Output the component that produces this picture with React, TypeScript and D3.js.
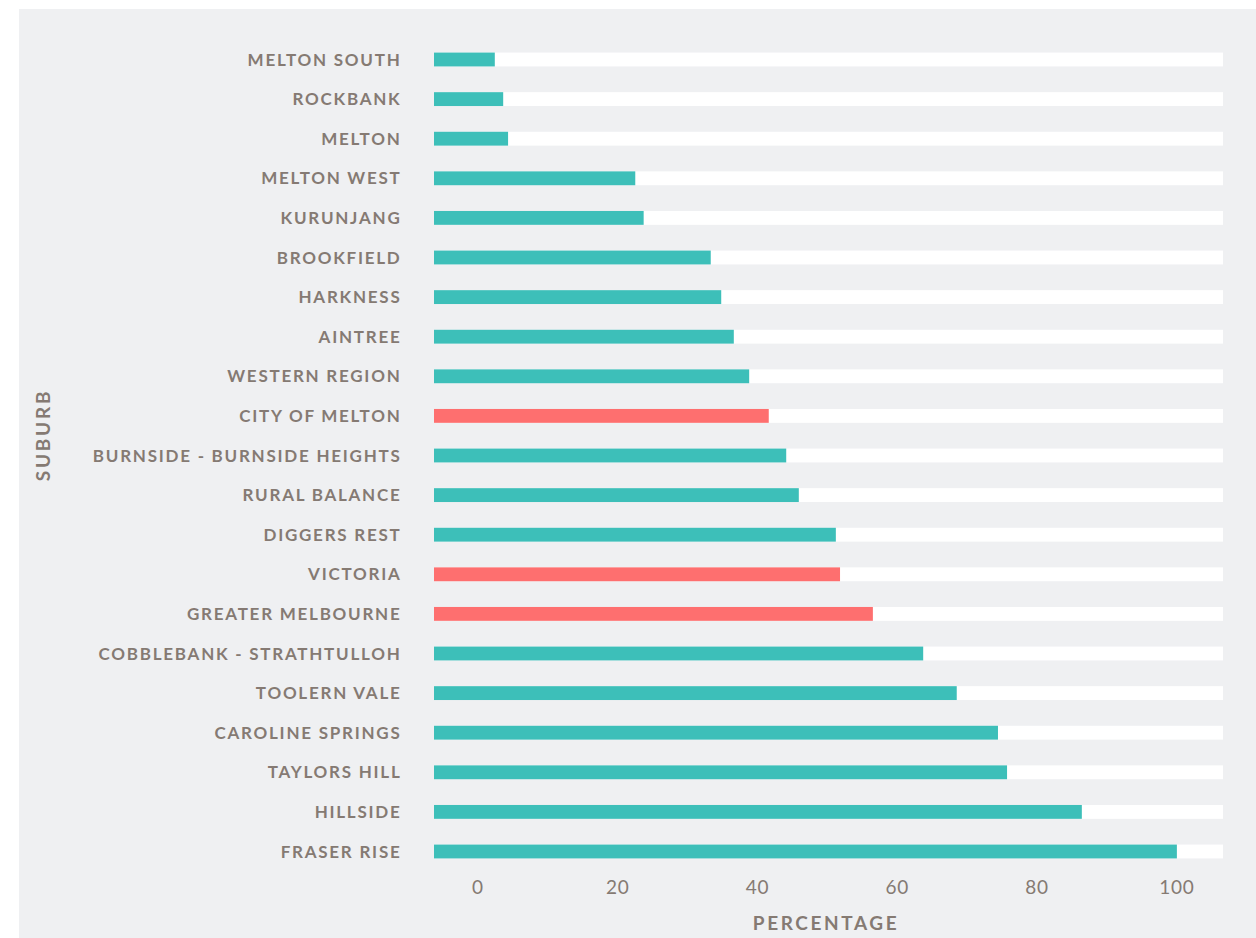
import React from "react";
import * as d3 from "d3";

const suburbs = [
  "MELTON SOUTH", "ROCKBANK", "MELTON", "MELTON WEST", "KURUNJANG", "BROOKFIELD",
  "HARKNESS", "AINTREE", "WESTERN REGION", "CITY OF MELTON", "BURNSIDE - BURNSIDE HEIGHTS",
  "RURAL BALANCE", "DIGGERS REST", "VICTORIA", "GREATER MELBOURNE", "COBBLEBANK - STRATHTULLOH",
  "TOOLERN VALE", "CAROLINE SPRINGS", "TAYLORS HILL", "HILLSIDE", "FRASER RISE",
];
const percentages = [
  2.4, 3.6, 4.3, 22.5, 23.7, 33.3, 34.8, 36.6, 38.8, 41.6, 44.1,
  45.9, 51.2, 51.8, 56.5, 63.7, 68.5, 74.4, 75.7, 86.4, 100,
];
const highlighted = ["CITY OF MELTON", "VICTORIA", "GREATER MELBOURNE"];
const xTicks = [0, 20, 40, 60, 80, 100];
const xDomain = [-6.3, 106.6];

const W = 1256, H = 938;
const TEXT = "#857a73";
const TEAL = "#3dbfb9";
const RED = "#fe6f6f";

export default function App() {
  const x = d3.scaleLinear().domain(xDomain).range([434, 1223]);
  const y = d3.scaleBand<string>().domain(suburbs).range([39.7, 871.3]).paddingInner(0.65).paddingOuter(0.325);
  const font = "Lato, 'Open Sans', sans-serif";
  return (
    <svg width={W} height={H} style={{ position: "absolute", left: 0, top: 0 }}>
      <rect x={19} y={9} width={W - 19} height={H - 9} fill="#eff0f2" />
      {suburbs.map((s, i) => (
        <g key={s}>
          <rect x={x(xDomain[0])} y={y(s)} width={x(xDomain[1]) - x(xDomain[0])} height={y.bandwidth()} fill="#ffffff" />
          <rect x={x(xDomain[0])} y={y(s)} width={x(percentages[i]) - x(xDomain[0])} height={y.bandwidth()}
            fill={highlighted.includes(s) ? RED : TEAL} />
          <text x={401.5} y={(y(s) as number) + y.bandwidth() / 2} dy="0.36em" textAnchor="end"
            fontFamily={font} fontWeight={700} fontSize={17} letterSpacing={1.75} fill={TEXT}>{s}</text>
        </g>
      ))}
      {xTicks.map((t) => (
        <text key={t} x={x(t)} y={887} dy="0.36em" textAnchor="middle" fontFamily={font}
          fontSize={19} letterSpacing={0.8} fill={TEXT}>{t}</text>
      ))}
      <text x={826} y={923} dy="0.36em" textAnchor="middle" fontFamily={font} fontWeight={700}
        fontSize={19} letterSpacing={2.6} fill={TEXT}>PERCENTAGE</text>
      <text transform={`translate(43,435) rotate(-90)`} dy="0.36em" textAnchor="middle" fontFamily={font}
        fontWeight={700} fontSize={19} letterSpacing={2.8} fill={TEXT}>SUBURB</text>
    </svg>
  );
}
